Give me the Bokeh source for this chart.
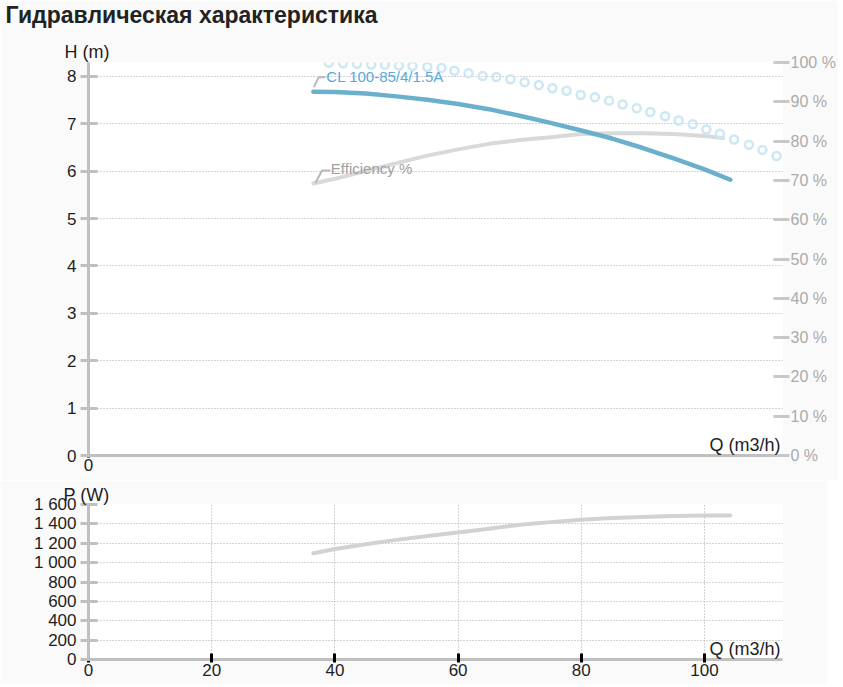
from bokeh.plotting import figure
from bokeh.layouts import column
from bokeh.models import Range1d, LinearAxis, FixedTicker, Label, Title
from bokeh.embed import file_html
from bokeh.resources import INLINE

# ---------------- data ----------------
TITLE = "Гидравлическая характеристика"
SERIES_NAME = "CL 100-85/4/1.5A"
EFF_NAME = "Efficiency %"
H_TITLE = "H (m)"
P_TITLE = "P (W)"
Q_TITLE = "Q (m3/h)"

q_head = [36.5, 40, 45, 50, 55, 60, 65, 70, 75, 80, 85, 90, 95, 100, 104.2]
head = [7.68, 7.67, 7.64, 7.58, 7.51, 7.42, 7.31, 7.17, 7.02, 6.86, 6.69, 6.49, 6.27, 6.04, 5.82]

q_eff = [36.5, 40, 45, 50, 55, 60, 65, 70, 75, 80, 85, 90, 95, 100, 103]
eff = [69.2, 70.4, 72.4, 74.4, 76.3, 77.9, 79.3, 80.3, 81.0, 81.8, 82.0, 82.0, 81.8, 81.3, 80.8]

q_pow = [36.5, 40, 45, 50, 55, 60, 65, 70, 75, 80, 85, 90, 95, 100, 104.2]
power = [1097, 1140, 1190, 1235, 1275, 1312, 1350, 1390, 1418, 1442, 1460, 1472, 1482, 1486, 1487]

q_dots = [39.0, 41.3, 43.6, 45.9, 48.1, 50.4, 52.6, 55.0, 57.3, 59.4, 61.7, 64.0, 66.2,
          68.5, 70.8, 73.1, 75.3, 77.6, 79.9, 82.2, 84.5, 86.7, 89.0, 91.2, 93.6, 95.8,
          98.1, 100.3, 102.5, 104.8, 107.2, 109.4, 111.7]
h_dots = [8.29, 8.28, 8.27, 8.25, 8.25, 8.23, 8.22, 8.20, 8.18, 8.12, 8.07, 8.01, 7.99,
          7.94, 7.88, 7.82, 7.75, 7.70, 7.61, 7.56, 7.49, 7.41, 7.33, 7.25, 7.16, 7.07,
          6.99, 6.88, 6.79, 6.67, 6.56, 6.45, 6.32]

q_ticks = [0, 20, 40, 60, 80, 100]
h_ticks = [0, 1, 2, 3, 4, 5, 6, 7, 8]
eff_ticks = [0, 10, 20, 30, 40, 50, 60, 70, 80, 90, 100]
p_ticks = [0, 200, 400, 600, 800, 1000, 1200, 1400, 1600]
p_labels = ["0", "200", "400", "600", "800", "1 000", "1 200", "1 400", "1 600"]

# ---------------- layout / style ----------------
X_END = 112.66
H_END = 8.295
EFF_END = 100
P_END = 1600
FRAME_W = 694
FRAME_H1 = 393
FRAME_H2 = 155
BORDER_L = 88

FONT = "Liberation Sans"
BLUE = "#6ab0cc"
BLUE_TEXT = "#55aadb"
EFF_COLOR = "#d9d9d9"
POW_COLOR = "#d2d2d2"
DOT_COLOR = "#cde7f4"
AXIS_GRAY = "#c0c0c0"
GRID_GRAY = "#a8a8a8"
TEXT = "#1e1e1e"

SX = FRAME_W / X_END
SY_H = FRAME_H1 / H_END
SY_E = FRAME_H1 / EFF_END
SY_P = FRAME_H2 / P_END


def style_left_axis(ax, ticks):
    ax.ticker = FixedTicker(ticks=ticks)
    ax.axis_line_color = AXIS_GRAY
    ax.axis_line_width = 3
    ax.major_tick_line_color = AXIS_GRAY
    ax.major_tick_line_width = 3
    ax.major_tick_in = 9
    ax.major_tick_out = 8
    ax.minor_tick_line_color = None
    ax.major_label_text_font = FONT
    ax.major_label_text_font_size = "17px"
    ax.major_label_text_color = TEXT
    ax.major_label_standoff = 4


def style_x_axis(ax, ticks):
    ax.ticker = FixedTicker(ticks=ticks)
    ax.axis_line_color = AXIS_GRAY
    ax.axis_line_width = 3
    ax.major_tick_line_color = "black"
    ax.major_tick_line_width = 3
    ax.major_tick_in = 6
    ax.major_tick_out = 2
    ax.minor_tick_line_color = None
    ax.major_label_text_font = FONT
    ax.major_label_text_font_size = "17px"
    ax.major_label_text_color = TEXT
    ax.major_label_standoff = 1


# ---------------- top chart ----------------
p1 = figure(frame_width=FRAME_W, frame_height=FRAME_H1,
            x_range=Range1d(0, X_END), y_range=Range1d(0, H_END),
            output_backend="svg", toolbar_location=None,
            min_border_left=BORDER_L, min_border_right=45, min_border_top=62, min_border_bottom=25,
            background_fill_color="white", border_fill_color="#fafafa",
            outline_line_color=None)

# axis title "H (m)" directly above the frame (closest to the frame)
p1.add_layout(Title(text=H_TITLE, align="left", offset=-24, standoff=1,
                    text_font=FONT, text_font_size="18px", text_font_style="normal",
                    text_color=TEXT), "above")
# empty spacer so that the main title sits at the very top
p1.add_layout(Title(text=" ", align="left", standoff=6, text_font=FONT,
                    text_font_size="2px", text_color="#fafafa"), "above")
# main chart title, outermost
p1.add_layout(Title(text=TITLE, align="left", offset=-83, standoff=0, vertical_align="top",
                    text_font=FONT, text_font_size="23px", text_font_style="bold",
                    text_color="#222222"), "above")

style_left_axis(p1.yaxis[0], h_ticks)
style_x_axis(p1.xaxis[0], [0])
p1.xgrid.visible = False
p1.ygrid.ticker = FixedTicker(ticks=h_ticks)
p1.ygrid.grid_line_color = GRID_GRAY
p1.ygrid.grid_line_dash = "1 2"
p1.ygrid.grid_line_width = 1

p1.extra_y_ranges = {"eff": Range1d(0, EFF_END)}
rax = LinearAxis(y_range_name="eff", ticker=FixedTicker(ticks=eff_ticks),
                 major_label_overrides={t: f"{t} %" for t in eff_ticks})
rax.axis_line_color = None
rax.major_tick_line_color = "#c8c8c8"
rax.major_tick_line_width = 3
rax.major_tick_in = 9
rax.major_tick_out = 7
rax.minor_tick_line_color = None
rax.major_label_text_font = FONT
rax.major_label_text_font_size = "16px"
rax.major_label_text_color = "#ababab"
rax.major_label_standoff = 1
p1.add_layout(rax, "right")

p1.line(q_eff, eff, y_range_name="eff", line_color=EFF_COLOR, line_width=4,
        line_cap="round", line_join="round")
p1.line(q_head, head, line_color=BLUE, line_width=4.5, line_cap="round", line_join="round")
p1.scatter(q_dots, h_dots, marker="circle", size=8, fill_color=None,
           line_color=DOT_COLOR, line_width=2.5)

# leader line + label for head curve
q0, h0 = q_head[0], head[0]
p1.line([q0 + 0.5 / SX, q0 + 5.5 / SX, q0 + 12 / SX],
        [h0 + 4.5 / SY_H, h0 + 14.5 / SY_H, h0 + 14.5 / SY_H],
        line_color="#b8b8b8", line_width=2)
p1.add_layout(Label(x=q0 + 13 / SX, y=h0 + 15 / SY_H, text=SERIES_NAME,
                    text_font=FONT, text_font_size="15px", text_color=BLUE_TEXT,
                    text_align="left", text_baseline="middle"))

# leader line + label for efficiency curve
e0q, e0 = q_eff[0], eff[0]
p1.line([e0q + 2 / SX, e0q + 8.7 / SX, e0q + 17 / SX],
        [e0 + 0.5 / SY_E, e0 + 13 / SY_E, e0 + 13 / SY_E],
        y_range_name="eff", line_color="#b8b8b8", line_width=2)
p1.add_layout(Label(x=e0q + 17.5 / SX, y=e0 + 15 / SY_E, y_range_name="eff", text=EFF_NAME,
                    text_font=FONT, text_font_size="15px", text_color="#a0a0a0",
                    text_align="left", text_baseline="middle"))

p1.add_layout(Label(x=X_END - 2 / SX, y=1 / SY_H, text=Q_TITLE, text_font=FONT,
                    text_font_size="18px", text_color=TEXT,
                    text_align="right", text_baseline="bottom"))

# ---------------- bottom chart ----------------
p2 = figure(frame_width=FRAME_W, frame_height=FRAME_H2,
            x_range=Range1d(0, X_END), y_range=Range1d(0, P_END),
            output_backend="svg", toolbar_location=None,
            min_border_left=BORDER_L, min_border_right=45, min_border_top=24, min_border_bottom=25,
            background_fill_color="white", border_fill_color="#fafafa",
            outline_line_color=None)
p2.add_layout(Title(text=P_TITLE, align="left", offset=-25, standoff=0,
                    text_font=FONT, text_font_size="18px", text_font_style="normal",
                    text_color=TEXT), "above")
style_left_axis(p2.yaxis[0], p_ticks)
p2.yaxis[0].major_label_overrides = {t: s for t, s in zip(p_ticks, p_labels)}
style_x_axis(p2.xaxis[0], q_ticks)
p2.xaxis[0].major_tick_out = 3
p2.xgrid.ticker = FixedTicker(ticks=q_ticks)
p2.ygrid.ticker = FixedTicker(ticks=p_ticks)
for g in (p2.xgrid, p2.ygrid):
    g.grid_line_color = GRID_GRAY
    g.grid_line_dash = "1 2"
    g.grid_line_width = 1

p2.line(q_pow, power, line_color=POW_COLOR, line_width=4, line_cap="round", line_join="round")

p2.add_layout(Label(x=X_END - 2 / SX, y=1 / SY_P, text=Q_TITLE, text_font=FONT,
                    text_font_size="18px", text_color=TEXT,
                    text_align="right", text_baseline="bottom"))

layout = column(p1, p2)
open("out.html", "w").write(file_html(layout, INLINE, title=TITLE))
